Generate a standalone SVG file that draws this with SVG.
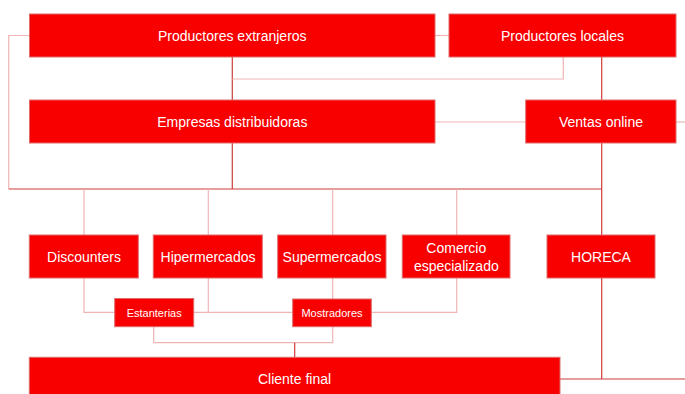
<svg xmlns="http://www.w3.org/2000/svg" width="685" height="394" viewBox="0 0 685 394">
<style>
.box{fill:#f80000;stroke:#e06a6a;stroke-width:1}
.t{fill:#ffffff;font-family:"Liberation Sans",Arial,sans-serif;font-size:14px;text-anchor:middle}
.s{font-size:11px}
.l{fill:none;stroke:#f0b4b4;stroke-width:1.2}
.d{fill:none;stroke:#d23c3c;stroke-width:1.2}
</style>
<rect width="685" height="394" fill="#ffffff"/>
<g id="connectors">
<polyline class="l" points="29.5,35.5 8.7,35.5 8.7,189"/>
<line class="l" x1="435" y1="35.5" x2="449" y2="35.5"/>
<line class="d" x1="232.3" y1="57" x2="232.3" y2="100"/>
<polyline class="l" points="232.3,79 563.3,79 563.3,57"/>
<line class="d" x1="601.7" y1="57" x2="601.7" y2="100"/>
<line class="l" x1="435" y1="122" x2="525.7" y2="122"/>
<line class="l" x1="676" y1="122" x2="685" y2="122"/>
<line class="d" x1="232.3" y1="143" x2="232.3" y2="189"/>
<line class="d" x1="8.7" y1="189" x2="601.7" y2="189"/>
<line class="d" x1="601.7" y1="143" x2="601.7" y2="235"/>
<line class="l" x1="84" y1="189" x2="84" y2="235"/>
<line class="l" x1="208.3" y1="189" x2="208.3" y2="235"/>
<line class="l" x1="332.7" y1="189" x2="332.7" y2="235"/>
<line class="l" x1="456.7" y1="189" x2="456.7" y2="235"/>
<polyline class="l" points="84,278 84,312.3 114.7,312.3"/>
<line class="l" x1="208.3" y1="278" x2="208.3" y2="312.3"/>
<line class="l" x1="193.7" y1="312.3" x2="292.7" y2="312.3"/>
<line class="l" x1="332.7" y1="278" x2="332.7" y2="299"/>
<polyline class="l" points="456.7,278 456.7,312.3 371.3,312.3"/>
<polyline class="l" points="153.7,326.7 153.7,342.7 332.7,342.7 332.7,326.7"/>
<line class="d" x1="294.7" y1="342.7" x2="294.7" y2="357.3"/>
<line class="d" x1="601.7" y1="278" x2="601.7" y2="379"/>
<line class="d" x1="560" y1="379" x2="685" y2="379"/>
</g>
<g id="productores-extranjeros"><rect class="box" x="29.5" y="14" width="405.5" height="43"/><text class="t" x="232.3" y="40.5">Productores extranjeros</text></g>
<g id="productores-locales"><rect class="box" x="449" y="14" width="227" height="43"/><text class="t" x="562.5" y="40.5">Productores locales</text></g>
<g id="empresas-distribuidoras"><rect class="box" x="29.5" y="100" width="405.5" height="43"/><text class="t" x="232.3" y="126.5">Empresas distribuidoras</text></g>
<g id="ventas-online"><rect class="box" x="525.7" y="100" width="150.3" height="43"/><text class="t" x="601" y="126.5">Ventas online</text></g>
<g id="discounters"><rect class="box" x="29.3" y="235" width="109" height="43"/><text class="t" x="84" y="261.5">Discounters</text></g>
<g id="hipermercados"><rect class="box" x="153.3" y="235" width="109" height="43"/><text class="t" x="208" y="261.5">Hipermercados</text></g>
<g id="supermercados"><rect class="box" x="277.7" y="235" width="108.3" height="43"/><text class="t" x="332" y="261.5">Supermercados</text></g>
<g id="comercio-especializado"><rect class="box" x="402.3" y="235" width="107.7" height="43"/><text class="t" x="456.3" y="253">Comercio</text><text class="t" x="456.3" y="270.5">especializado</text></g>
<g id="horeca"><rect class="box" x="547" y="235" width="108" height="43"/><text class="t" x="601" y="261.5">HORECA</text></g>
<g id="estanterias"><rect class="box" x="114.7" y="298.5" width="79" height="28.2"/><text class="t s" x="154.2" y="316.5">Estanterias</text></g>
<g id="mostradores"><rect class="box" x="292.7" y="299" width="78.6" height="27.7"/><text class="t s" x="332" y="316.5">Mostradores</text></g>
<g id="cliente-final"><rect class="box" x="29.3" y="357.3" width="530.7" height="40"/><text class="t" x="294.5" y="384">Cliente final</text></g>
</svg>
